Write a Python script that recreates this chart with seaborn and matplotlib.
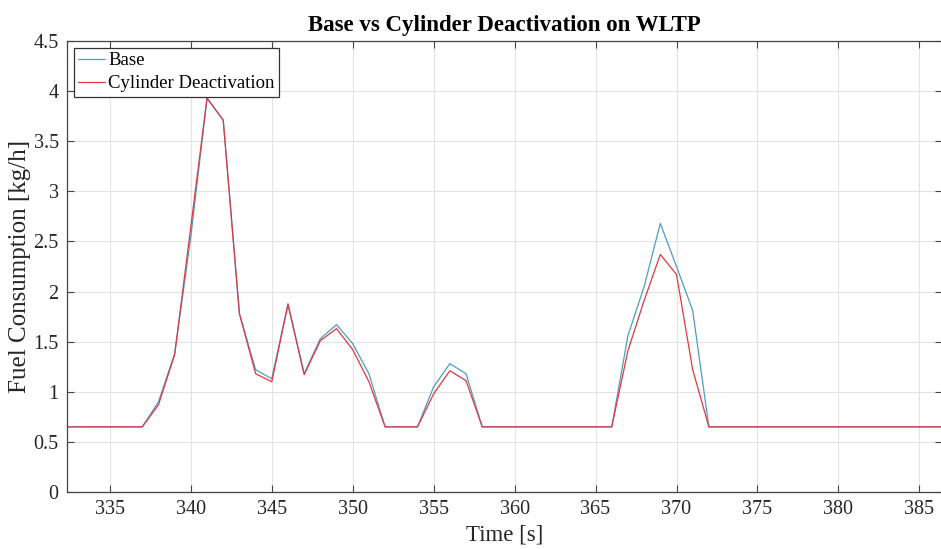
import numpy as np
import pandas as pd
import matplotlib
matplotlib.use("Agg")
import matplotlib.pyplot as plt
import seaborn as sns

# Time axis [s] and fuel consumption [kg/h] for both configurations
time_s = list(range(332, 388))
base_fc = [0.65, 0.65, 0.65, 0.65, 0.65, 0.65, 0.90, 1.38, 2.55, 3.93,
           3.71, 1.78, 1.22, 1.13, 1.88, 1.18, 1.53, 1.67, 1.48, 1.18,
           0.65, 0.65, 0.65, 1.05, 1.28, 1.18, 0.65, 0.65, 0.65, 0.65,
           0.65, 0.65, 0.65, 0.65, 0.65, 1.56, 2.05, 2.68, 2.25, 1.81,
           0.65, 0.65, 0.65, 0.65, 0.65, 0.65, 0.65, 0.65, 0.65, 0.65,
           0.65, 0.65, 0.65, 0.65, 0.65, 0.65]
cda_fc = [0.65, 0.65, 0.65, 0.65, 0.65, 0.65, 0.87, 1.37, 2.65, 3.93,
          3.71, 1.78, 1.18, 1.10, 1.87, 1.17, 1.51, 1.63, 1.42, 1.10,
          0.65, 0.65, 0.65, 0.98, 1.21, 1.11, 0.65, 0.65, 0.65, 0.65,
          0.65, 0.65, 0.65, 0.65, 0.65, 1.41, 1.91, 2.37, 2.17, 1.22,
          0.65, 0.65, 0.65, 0.65, 0.65, 0.65, 0.65, 0.65, 0.65, 0.65,
          0.65, 0.65, 0.65, 0.65, 0.65, 0.65]
series_names = ["Base", "Cylinder Deactivation"]
series_colors = ["#4d9dc2", "#e2383f"]
x_ticks = list(range(335, 390, 5))
y_ticks = [0, 0.5, 1, 1.5, 2, 2.5, 3, 3.5, 4, 4.5]
y_tick_labels = ["0", "0.5", "1", "1.5", "2", "2.5", "3", "3.5", "4", "4.5"]

df = pd.concat([
    pd.DataFrame({"Time": time_s, "Fuel": base_fc, "Case": series_names[0]}),
    pd.DataFrame({"Time": time_s, "Fuel": cda_fc, "Case": series_names[1]}),
])

sns.set_theme(style="whitegrid")
plt.rcParams["font.family"] = ["Liberation Serif", "DejaVu Serif"]

fig = plt.figure(figsize=(9.41, 5.49), dpi=100)
ax = fig.add_axes([67 / 941, 1 - 492 / 549, (942 - 67) / 941, (492 - 41) / 549])

sns.lineplot(data=df, x="Time", y="Fuel", hue="Case", hue_order=series_names,
             palette=series_colors, linewidth=0.9, ax=ax, legend=True)

ax.set_xlim(332.35, 386.4)
ax.set_ylim(0, 4.5)
ax.set_xticks(x_ticks)
ax.set_yticks(y_ticks)
ax.set_yticklabels(y_tick_labels)
ax.set_facecolor("white")
ax.grid(True, color="#e3e3e3", linewidth=0.8)
for side in ["left", "right", "top", "bottom"]:
    ax.spines[side].set_visible(True)
    ax.spines[side].set_color("#444444")
    ax.spines[side].set_linewidth(0.9)
ax.tick_params(axis="both", which="both", direction="in", length=5, width=0.8,
               color="#444444", labelsize=14.5, labelcolor="#262626",
               top=True, right=True, bottom=True, left=True, pad=6)

ax.set_xlabel("Time [s]", fontsize=16.5, color="#262626", labelpad=4)
ax.set_ylabel("Fuel Consumption [kg/h]", fontsize=18, color="#262626", labelpad=2)
ax.set_title("Base vs Cylinder Deactivation on WLTP", fontsize=16.5,
             fontweight="bold", color="black", pad=7)

leg = ax.legend(loc="upper left", bbox_to_anchor=(0.0, 1.0), fontsize=13.5,
                frameon=True, fancybox=False, handlelength=1.45, handletextpad=0.15,
                borderpad=0.25, labelspacing=0.3, borderaxespad=0.35)
leg.get_frame().set_edgecolor("#333333")
leg.get_frame().set_linewidth(0.9)
leg.get_frame().set_alpha(1.0)
for t in leg.get_texts():
    t.set_color("black")

fig.savefig("out.png", dpi=100)
